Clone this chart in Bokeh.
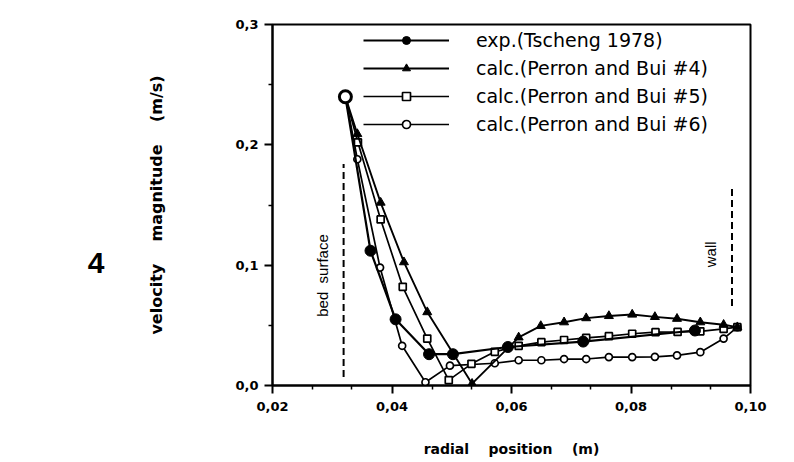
import math
from bokeh.plotting import figure
from bokeh.models import Range1d, FixedTicker, Legend, LegendItem, Label, LinearAxis
from bokeh.embed import file_html
from bokeh.resources import INLINE

# ---------------- data ----------------
x_exp = [0.0322, 0.0364, 0.0406, 0.0462, 0.0502, 0.0594, 0.0720, 0.0907]
y_exp = [0.240, 0.112, 0.055, 0.026, 0.026, 0.032, 0.0365, 0.0457]

x_c4 = [0.0322, 0.0342, 0.0381, 0.0420, 0.0459, 0.0534, 0.0612, 0.0649, 0.0688,
        0.0725, 0.0763, 0.0802, 0.0840, 0.0877, 0.0916, 0.0955, 0.0978]
y_c4 = [0.240, 0.209, 0.152, 0.1025, 0.061, 0.0015, 0.040, 0.0495, 0.0526,
        0.0560, 0.0578, 0.0590, 0.0570, 0.0555, 0.0526, 0.0505, 0.0485]

x_c5 = [0.0322, 0.0343, 0.0381, 0.0418, 0.0459, 0.0495, 0.0533, 0.0572, 0.0612,
        0.0650, 0.0688, 0.0725, 0.0763, 0.0802, 0.0841, 0.0878, 0.0916, 0.0955, 0.0978]
y_c5 = [0.240, 0.202, 0.138, 0.082, 0.039, 0.0045, 0.018, 0.028, 0.033,
        0.036, 0.0378, 0.0395, 0.041, 0.043, 0.0443, 0.0445, 0.045, 0.047, 0.0485]

x_c6 = [0.0322, 0.0342, 0.0380, 0.0417, 0.0456, 0.0497, 0.0572, 0.0612, 0.0650,
        0.0688, 0.0725, 0.0763, 0.0802, 0.0840, 0.0877, 0.0916, 0.0955, 0.0978]
y_c6 = [0.240, 0.188, 0.098, 0.033, 0.0027, 0.0165, 0.0185, 0.021, 0.021,
        0.022, 0.022, 0.0236, 0.0236, 0.0238, 0.025, 0.0277, 0.039, 0.0485]

series_labels = ["exp.(Tscheng 1978)", "calc.(Perron and Bui #4)",
                 "calc.(Perron and Bui #5)", "calc.(Perron and Bui #6)"]

# reference marks
bed_x = [0.0319]
bed_y0 = [0.007]
bed_y1 = [0.184]
wall_x = [0.0969]
wall_y0 = [0.066]
wall_y1 = [0.166]

x_ticks = [0.02, 0.04, 0.06, 0.08, 0.10]
x_tick_labels = ["0,02", "0,04", "0,06", "0,08", "0,10"]
x_minor = [0.0267, 0.0333, 0.0467, 0.0533, 0.0667, 0.0733, 0.0867, 0.0933]
y_ticks = [0.0, 0.1, 0.2, 0.3]
y_tick_labels = ["0,0", "0,1", "0,2", "0,3"]
y_minor = [0.05, 0.15, 0.25]

NB = "\u00a0"
x_title = "radial" + NB * 4 + "position" + NB * 4 + "(m)"
y_title = "velocity" + NB * 4 + "magnitude" + NB * 4 + "(m/s)"
panel_number = "4"
panel_y = [0.102]

# ---------------- figure ----------------
p = figure(frame_width=478, frame_height=361,
           min_border_left=272, min_border_right=44,
           min_border_top=24, min_border_bottom=77,
           x_range=Range1d(0.02, 0.10), y_range=Range1d(0.0, 0.3),
           output_backend="svg", toolbar_location=None)
p.background_fill_color = "white"
p.border_fill_color = "white"
p.outline_line_color = "black"
p.outline_line_width = 2
p.xgrid.grid_line_color = None
p.ygrid.grid_line_color = None

for ax in (p.xaxis[0], p.yaxis[0]):
    ax.axis_line_width = 2
    ax.major_tick_line_width = 2
    ax.minor_tick_line_width = 1.5
    ax.major_tick_in = 0
    ax.major_tick_out = 8
    ax.minor_tick_in = 0
    ax.minor_tick_out = 4
    ax.major_label_text_font = "DejaVu Sans"
    ax.major_label_text_font_style = "bold"
    ax.major_label_text_font_size = "13px"
    ax.axis_label_text_font = "DejaVu Sans"
    ax.axis_label_text_font_style = "bold"
    ax.axis_label_text_color = "black"
    ax.major_label_text_color = "black"

p.xaxis[0].ticker = FixedTicker(ticks=x_ticks, minor_ticks=x_minor)
p.xaxis[0].major_label_overrides = dict(zip(x_ticks, x_tick_labels))
p.xaxis[0].major_label_standoff = 8
p.xaxis[0].axis_label = x_title
p.xaxis[0].axis_label_text_font_size = "14px"
p.xaxis[0].axis_label_standoff = 27

p.yaxis[0].ticker = FixedTicker(ticks=y_ticks, minor_ticks=y_minor)
p.yaxis[0].major_label_overrides = dict(zip(y_ticks, y_tick_labels))
p.yaxis[0].major_label_standoff = 6
p.yaxis[0].axis_label = y_title
p.yaxis[0].axis_label_text_font_size = "16px"
p.yaxis[0].axis_label_standoff = 66

# panel number as an outer, tick-less axis label
ax4 = LinearAxis(ticker=FixedTicker(ticks=panel_y),
                 major_label_overrides=dict(zip(panel_y, [panel_number])),
                 axis_line_color=None, major_tick_line_color=None,
                 minor_tick_line_color=None, major_tick_out=0, major_tick_in=0,
                 major_label_standoff=40, major_label_text_font="Liberation Sans",
                 major_label_text_font_style="bold", major_label_text_font_size="30px",
                 major_label_text_color="black")
p.add_layout(ax4, "left")

# dashed reference lines
p.segment(x0=bed_x, y0=bed_y0, x1=bed_x, y1=bed_y1, line_color="black",
          line_width=2, line_dash="7 4")
p.segment(x0=wall_x, y0=wall_y0, x1=wall_x, y1=wall_y1, line_color="black",
          line_width=2, line_dash="7 4")

# series
l6 = p.line(x_c6, y_c6, line_color="black", line_width=1.7)
s6 = p.scatter(x_c6[1:], y_c6[1:], marker="circle", size=7, fill_color="white",
               line_color="black", line_width=1.7)
l5 = p.line(x_c5, y_c5, line_color="black", line_width=1.7)
s5 = p.scatter(x_c5[1:], y_c5[1:], marker="square", size=7, fill_color="white",
               line_color="black", line_width=1.7)
l4 = p.line(x_c4, y_c4, line_color="black", line_width=1.9)
s4 = p.scatter(x_c4[1:], y_c4[1:], marker="triangle", size=9, fill_color="black",
               line_color="black", line_width=1)
le = p.line(x_exp, y_exp, line_color="black", line_width=2.2)
se = p.scatter(x_exp[1:], y_exp[1:], marker="circle", size=11, fill_color="black",
               line_color="black", line_width=1)
# common inlet point
p.scatter(x_c6[:1], y_c6[:1], marker="circle", size=12, fill_color="white",
          line_color="black", line_width=3)

legend = Legend(items=[
    LegendItem(label=series_labels[0], renderers=[le, se]),
    LegendItem(label=series_labels[1], renderers=[l4, s4]),
    LegendItem(label=series_labels[2], renderers=[l5, s5]),
    LegendItem(label=series_labels[3], renderers=[l6, s6]),
], location=(91, 250), glyph_width=86, glyph_height=20, label_height=20,
    spacing=6, label_standoff=27, padding=0, margin=0,
    border_line_color=None, background_fill_alpha=0,
    label_text_font="DejaVu Sans", label_text_font_size="19px",
    label_text_color="black")
p.add_layout(legend)

# annotations
p.add_layout(Label(x=0.0284, y=0.0914, text="bed" + NB * 2 + "surface", angle=math.pi / 2,
                   text_align="center", text_baseline="middle",
                   text_font="Liberation Sans", text_font_size="15px", text_color="black"))
p.add_layout(Label(x=0.0933, y=0.109, text="wall", angle=math.pi / 2,
                   text_align="center", text_baseline="middle",
                   text_font="Liberation Sans", text_font_size="15px", text_color="black"))

open("out.html", "w").write(file_html(p, INLINE))
